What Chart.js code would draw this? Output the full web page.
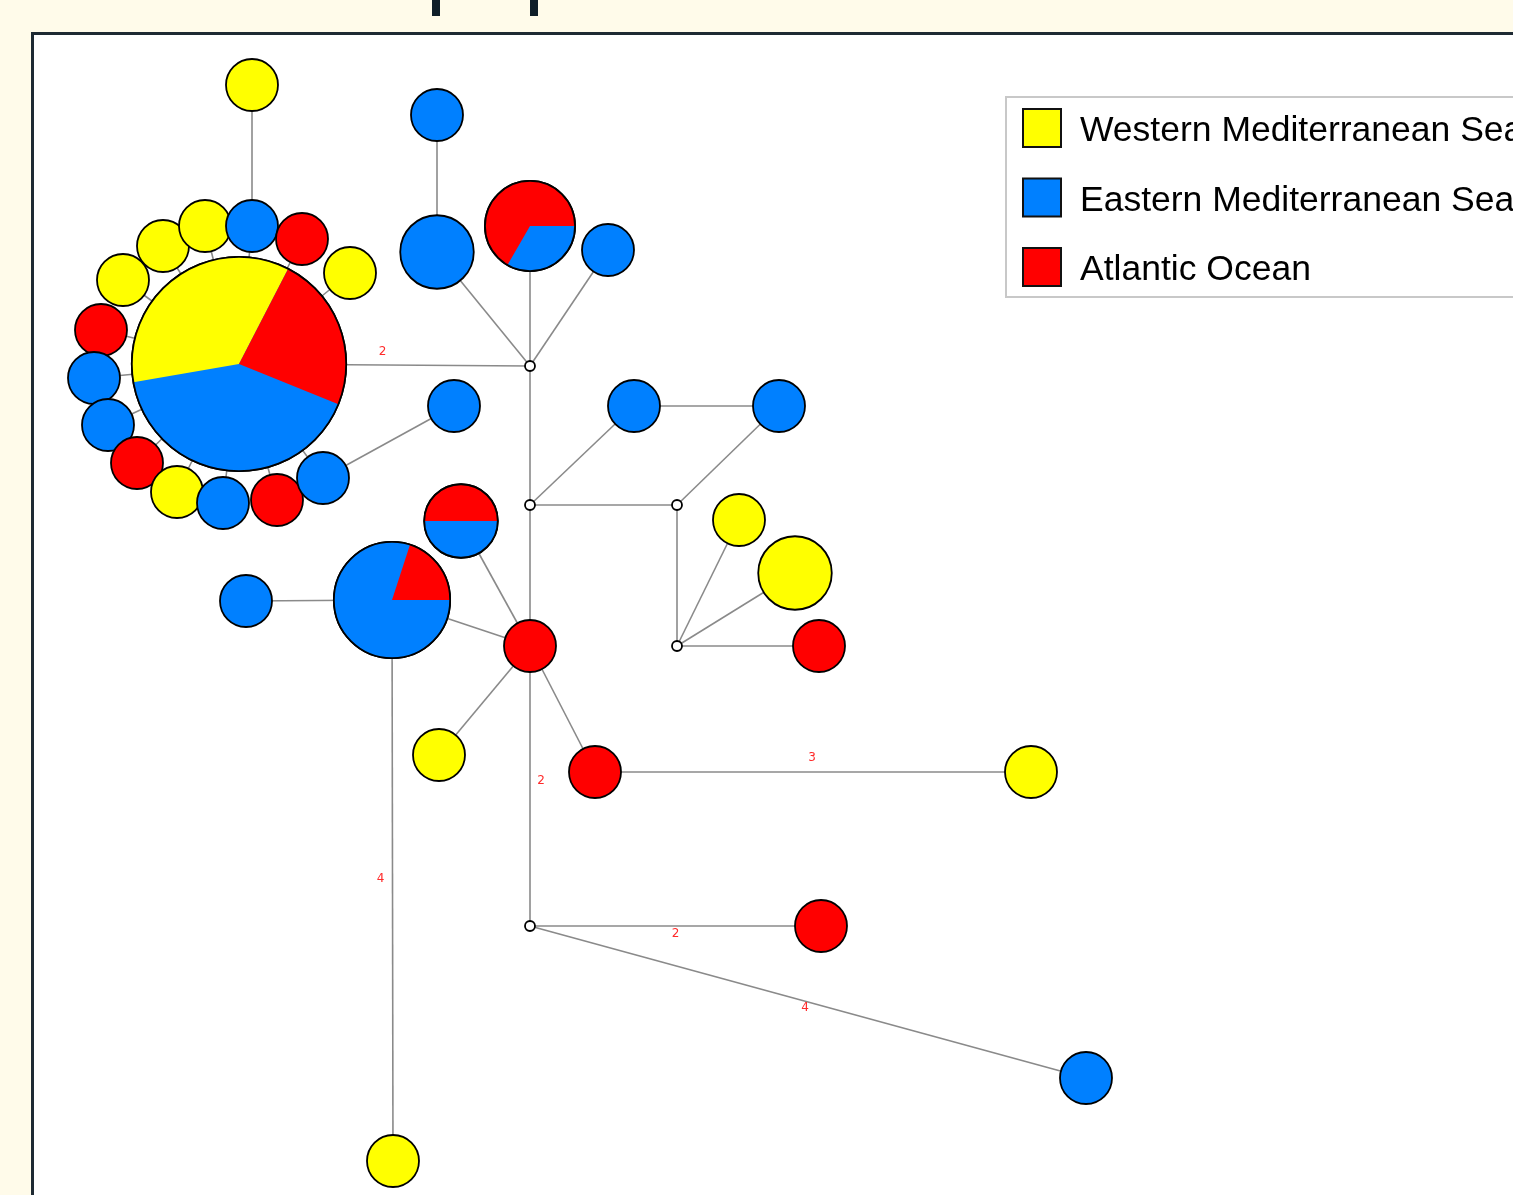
<!DOCTYPE html>
<html>
<head>
<meta charset="utf-8">
<script src="https://cdn.jsdelivr.net/npm/chart.js@4.4.0/dist/chart.umd.min.js"></script>
<style>
    html, body { margin: 0; padding: 0; width: 1513px; height: 1195px; overflow: hidden; background: #fffbea; }
    .marca { position: absolute; top: 0; width: 8px; height: 16px; background: #0f1e29; }
    #painel { position: absolute; left: 31px; top: 32px; width: 1700px; height: 1300px; background: #ffffff; border-left: 3px solid #1e2a33; border-top: 3px solid #1e2a33; }
    #painel canvas { position: absolute; left: 0; top: 0; }
</style>
</head>
<body>
<div class="marca" style="left:432px"></div>
<div class="marca" style="left:530px"></div>
<div id="painel"><canvas id="chartRede" width="1600" height="1200"></canvas></div>

<script>
// regions (legend order)
const regioes = ["Western Mediterranean Sea", "Eastern Mediterranean Sea", "Atlantic Ocean"];
const coresRegioes = ["#ffff00", "#0080ff", "#ff0000"];

// haplotype nodes: position + sample counts per region (0,0,0 = median vertex)
const nodeX = [239, 123, 163, 205, 252, 302, 350, 101, 94, 108, 137, 177, 223, 277, 323,
    252, 454, 437, 437, 530, 608, 530, 530, 634, 779, 677, 677, 739, 795, 819,
    530, 461, 392, 246, 393, 439, 595, 1031, 530, 821, 1086];
const nodeY = [364, 280, 246, 226, 226, 239, 273, 330, 378, 425, 463, 492, 503, 500, 478,
    85, 406, 115, 252, 226, 250, 366, 505, 406, 406, 505, 646, 520, 573, 646,
    646, 521, 600, 601, 1161, 755, 772, 772, 926, 926, 1078];
const nodeWest = [6, 1, 1, 1, 0, 0, 1, 0, 0, 0, 0, 1, 0, 0, 0,
    1, 0, 0, 0, 0, 0, 0, 0, 0, 0, 0, 0, 1, 2, 0,
    0, 0, 0, 0, 1, 1, 0, 1, 0, 0, 0];
const nodeEast = [7, 0, 0, 0, 1, 0, 0, 0, 1, 1, 0, 0, 1, 0, 1,
    0, 1, 1, 2, 1, 1, 0, 0, 1, 1, 0, 0, 0, 0, 0,
    0, 1, 4, 1, 0, 0, 0, 0, 0, 0, 1];
const nodeAtlantic = [4, 0, 0, 0, 0, 1, 0, 1, 0, 0, 1, 0, 0, 1, 0,
    0, 0, 0, 0, 2, 0, 0, 0, 0, 0, 0, 0, 0, 0, 1,
    1, 1, 1, 0, 0, 0, 1, 0, 0, 1, 0];

// links between nodes and number of mutational steps
const edgeFrom = [0, 0, 0, 0, 0, 0, 0, 0, 0, 0, 0, 0, 0, 0,
    4, 14, 0, 17, 18, 19, 20, 21, 22, 23, 24, 22, 25,
    26, 26, 26, 22, 30, 30, 32, 32, 30, 30, 30, 36, 38, 38];
const edgeTo = [1, 2, 3, 4, 5, 6, 7, 8, 9, 10, 11, 12, 13, 14,
    15, 16, 21, 18, 21, 21, 21, 22, 23, 24, 25, 25, 26,
    27, 28, 29, 30, 31, 32, 33, 34, 35, 36, 38, 37, 39, 40];
const edgeSteps = [1, 1, 1, 1, 1, 1, 1, 1, 1, 1, 1, 1, 1, 1,
    1, 1, 2, 1, 1, 1, 1, 1, 1, 1, 1, 1, 1,
    1, 1, 1, 1, 1, 1, 1, 4, 1, 1, 2, 3, 2, 4];

// label nudges for the step numbers (px)
const labelShift = { 16: [-2, -13], 34: [-12, -2], 37: [11, -5], 38: [-1, -14], 39: [0, 8], 40: [-3, 6] };
const pieStart = { 0: 22 };

function raio(i) {
    const total = nodeWest[i] + nodeEast[i] + nodeAtlantic[i];
    return total === 0 ? 5 : 26 * Math.sqrt(total);
}

function corNo(i) {
    if (nodeWest[i] + nodeEast[i] + nodeAtlantic[i] === 0) return "#ffffff";
    if (nodeEast[i] > 0) return coresRegioes[1];
    if (nodeWest[i] > 0) return coresRegioes[0];
    return coresRegioes[2];
}

const nodesData = nodeX.map((x, i) => ({ x: x, y: nodeY[i] }));

const edgeDatasets = edgeFrom.map((a, k) => ({
    label: "link" + k,
    data: [{ x: nodeX[a], y: nodeY[a] }, { x: nodeX[edgeTo[k]], y: nodeY[edgeTo[k]] }],
    showLine: true,
    borderColor: "#8a8a8a",
    borderWidth: 1.6,
    pointRadius: 0,
    order: 2,
    clip: false
}));

const piePlugin = {
    id: "pies",
    afterDatasetsDraw(chart) {
        const ctx = chart.ctx;
        const sx = chart.scales.x, sy = chart.scales.y;
        nodeX.forEach((vx, i) => {
            // blue first, then yellow, then red (clockwise)
            const partes = [nodeEast[i], nodeWest[i], nodeAtlantic[i]];
            const cores = [coresRegioes[1], coresRegioes[0], coresRegioes[2]];
            if (partes.filter(v => v > 0).length < 2) return;
            const total = partes.reduce((s, v) => s + v, 0);
            const px = sx.getPixelForValue(vx), py = sy.getPixelForValue(nodeY[i]);
            const r = raio(i);
            let ang = (pieStart[i] || 0) * Math.PI / 180;
            ctx.save();
            partes.forEach((v, j) => {
                if (!v) return;
                const fim = ang + v / total * Math.PI * 2;
                ctx.beginPath();
                ctx.moveTo(px, py);
                ctx.arc(px, py, r, ang, fim);
                ctx.closePath();
                ctx.fillStyle = cores[j];
                ctx.fill();
                ang = fim;
            });
            ctx.beginPath();
            ctx.arc(px, py, r, 0, Math.PI * 2);
            ctx.lineWidth = 1.8;
            ctx.strokeStyle = "#000000";
            ctx.stroke();
            ctx.restore();
        });

        // mutational steps on the links
        ctx.save();
        ctx.font = "12px 'DejaVu Sans'";
        ctx.fillStyle = "#ff2a2a";
        ctx.textAlign = "center";
        ctx.textBaseline = "middle";
        edgeSteps.forEach((n, k) => {
            if (n < 2) return;
            const a = edgeFrom[k], b = edgeTo[k];
            const d = labelShift[k] || [0, -12];
            const mx = (sx.getPixelForValue(nodeX[a]) + sx.getPixelForValue(nodeX[b])) / 2;
            const my = (sy.getPixelForValue(nodeY[a]) + sy.getPixelForValue(nodeY[b])) / 2;
            ctx.fillText(String(n), mx + d[0], my + d[1]);
        });
        ctx.restore();
    }
};

const legendaPlugin = {
    id: "legenda",
    afterDraw(chart) {
        const ctx = chart.ctx;
        const sx = chart.scales.x, sy = chart.scales.y;
        const x0 = sx.getPixelForValue(1006), y0 = sy.getPixelForValue(97);
        ctx.save();
        ctx.fillStyle = "#ffffff";
        ctx.fillRect(x0, y0, 700, 200);
        ctx.lineWidth = 2;
        ctx.strokeStyle = "#c8c8c8";
        ctx.strokeRect(x0, y0, 700, 200);
        ctx.font = "35.5px 'Liberation Sans', Arial, sans-serif";
        ctx.textBaseline = "alphabetic";
        regioes.forEach((nome, i) => {
            const cy = y0 + 31 + i * 69.5;
            ctx.fillStyle = coresRegioes[i];
            ctx.fillRect(x0 + 17, cy - 19, 38, 38);
            ctx.lineWidth = 2;
            ctx.strokeStyle = "#111111";
            ctx.strokeRect(x0 + 17, cy - 19, 38, 38);
            ctx.fillStyle = "#000000";
            ctx.fillText(nome, x0 + 74, cy + 13);
        });
        ctx.restore();
    }
};

const rede = document.getElementById("chartRede");

new Chart(rede, {
    type: "scatter",
    data: {
        datasets: [
            {
                label: "haplotipos",
                data: nodesData,
                pointRadius: nodeX.map((v, i) => raio(i)),
                pointHoverRadius: nodeX.map((v, i) => raio(i)),
                backgroundColor: nodeX.map((v, i) => corNo(i)),
                borderColor: "#000000",
                borderWidth: 1.8,
                order: 1,
                clip: false
            },
            ...edgeDatasets
        ]
    },
    options: {
        responsive: false,
        animation: false,
        events: [],
        layout: { padding: 0, autoPadding: false },
        plugins: {
            legend: { display: false },
            tooltip: { enabled: false }
        },
        scales: {
            x: { type: "linear", min: 34, max: 1634, display: false },
            y: { type: "linear", min: 35, max: 1235, reverse: true, display: false }
        }
    },
    plugins: [piePlugin, legendaPlugin]
});
</script>
</body>
</html>
